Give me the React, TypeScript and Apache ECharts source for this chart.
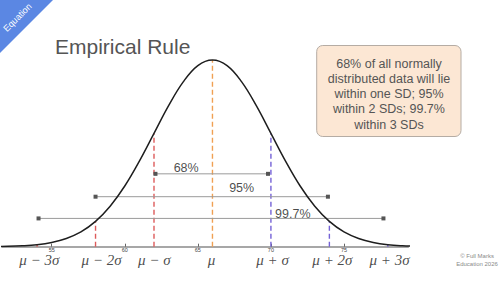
import React, { useEffect, useRef } from "react";
import * as echarts from "echarts";

// Normal curve heights (density), mean 66, sd 4
const curveX = [51, 52, 53, 54, 55, 56, 57, 58, 59, 60, 61, 62, 63, 64, 65, 66, 67, 68, 69, 70, 71, 72, 73, 74, 75, 76, 77, 78, 79, 80, 81];
const curveY = [0.0001, 0.0002, 0.0005, 0.0011, 0.0023, 0.0044, 0.0079, 0.0135, 0.0216, 0.0324, 0.0457, 0.0605, 0.0753, 0.088, 0.0967, 0.0997, 0.0967, 0.088, 0.0753, 0.0605, 0.0457, 0.0324, 0.0216, 0.0135, 0.0079, 0.0044, 0.0023, 0.0011, 0.0005, 0.0002, 0.0001];

const axisTicks = [55, 60, 65, 70, 75];

const mean = 66;
const sd = 4;
const sigmaSteps = [-3, -2, -1, 0, 1, 2, 3];
const sigmaLabels = ["μ − 3σ", "μ − 2σ", "μ − σ", "μ", "μ + σ", "μ + 2σ", "μ + 3σ"];
const guideHeights = [0.0011, 0.0135, 0.0605, 0.0997, 0.0605, 0.0135, 0.0011];

const rangeLabels = ["68%", "95%", "99.7%"];
const rangeStarts = [62.1, 58.0, 54.1];
const rangeEnds = [69.8, 73.9, 77.7];
const rangeLevels = [0.0389, 0.0267, 0.0151];
const rangeLabelX = [64.2, 68.0, 71.5];
const rangeLabelY = [0.0422, 0.0312, 0.0174];

const noteLines = [
  "68% of all normally",
  "distributed data will lie",
  "within one SD; 95%",
  "within 2 SDs; 99.7%",
  "within 3 SDs",
];

const SANS = "Liberation Sans, Arial, Helvetica, sans-serif";
const SERIF = "Liberation Serif, DejaVu Serif, serif";

function guideColor(k: number) {
  if (k < 0) return "#dd5a5a";
  if (k > 0) return "#7462d6";
  return "#f0a053";
}

export default function App() {
  const ref = useRef<HTMLDivElement>(null);
  useEffect(() => {
    if (!ref.current) return;
    const chart = echarts.init(ref.current, undefined, { renderer: "svg" });

    const sigmaNudge = [2.3, 6, 0.3, -1, 1.7, 3, 1.7];

    const guideSeries = sigmaSteps.map((k, i) => ({
      type: "line",
      data: [
        [mean + k * sd, 0],
        [mean + k * sd, guideHeights[i]],
      ],
      showSymbol: false,
      symbol: "none",
      lineStyle: { color: guideColor(k), width: 1.4, type: [5, 3] },
      z: 2,
      silent: true,
    }));

    const rangeSeries = rangeLabels.map((_, i) => ({
      type: "line",
      data: [
        [rangeStarts[i], rangeLevels[i]],
        [rangeEnds[i], rangeLevels[i]],
      ],
      symbol: "rect",
      symbolSize: 4,
      showSymbol: true,
      itemStyle: { color: "#555555" },
      lineStyle: { color: "#9a9a9a", width: 1 },
      z: 3,
      silent: true,
    }));

    const option: any = {
      animation: false,
      grid: { left: 2, right: 91.7, top: 59.4, bottom: 36.3 },
      xAxis: {
        type: "value",
        min: 51.6,
        max: 79.4,
        splitLine: { show: false },
        axisLine: { show: true, lineStyle: { color: "#8a8a8a", width: 1.5 } },
        axisTick: {
          show: true,
          inside: true,
          length: 3,
          customValues: axisTicks,
          lineStyle: { color: "#666", width: 1 },
        },
        axisLabel: {
          show: true,
          customValues: axisTicks,
          fontSize: 5.5,
          margin: 0,
          color: "#444",
          fontFamily: SANS,
        },
      },
      yAxis: { type: "value", min: 0, max: 0.1, show: false },
      series: [
        ...guideSeries,
        {
          type: "line",
          data: curveX.map((x, i) => [x, curveY[i]]),
          smooth: 0.4,
          showSymbol: false,
          symbol: "none",
          lineStyle: { color: "#1e1e1e", width: 1.5 },
          z: 4,
          silent: true,
        },
        ...rangeSeries,
        {
          type: "scatter",
          symbolSize: 0,
          data: rangeLabels.map((t, i) => ({ value: [rangeLabelX[i], rangeLabelY[i]], name: t })),
          label: {
            show: true,
            position: "inside",
            formatter: (p: any) => p.name,
            fontSize: 12.5,
            color: "#1a1a1a",
            fontFamily: SANS,
          },
          z: 5,
          silent: true,
        },
        {
          type: "scatter",
          symbolSize: 0,
          data: sigmaSteps.map((k, i) => ({
            value: [mean + k * sd, 0],
            name: sigmaLabels[i],
            label: { offset: [sigmaNudge[i], 13.6] },
          })),
          label: {
            show: true,
            position: "inside",
            formatter: (p: any) => p.name,
            fontSize: 15,
            fontStyle: "italic",
            color: "#1a1a1a",
            fontFamily: SERIF,
          },
          z: 5,
          silent: true,
        },
      ],
      graphic: [
        {
          type: "polygon",
          shape: { points: [[0, 0], [53, 0], [0, 53]] },
          style: { fill: "#5b87e3" },
          z: 10,
        },
        {
          type: "text",
          x: 17.5,
          y: 17.5,
          rotation: Math.PI / 4,
          style: {
            text: "Equation",
            x: 0,
            y: 0,
            fill: "#ffffff",
            font: `9px ${SANS}`,
            align: "center",
            verticalAlign: "middle",
            textAlign: "center",
            textVerticalAlign: "middle",
          },
          z: 11,
        },
        {
          type: "text",
          x: 55,
          y: 46.5,
          style: {
            text: "Empirical Rule",
            fill: "#555555",
            font: `21px ${SANS}`,
            align: "left",
            verticalAlign: "middle",
            textAlign: "left",
            textVerticalAlign: "middle",
          },
          z: 10,
        },
        {
          type: "rect",
          shape: { x: 316.7, y: 45.5, width: 144.3, height: 91, r: 6 },
          style: { fill: "#fce7d4", stroke: "#b5aca4", lineWidth: 1 },
          z: 10,
        },
        ...noteLines.map((t, i) => ({
          type: "text",
          x: 389,
          y: 63.5 + i * 15.25,
          style: {
            text: t,
            fill: "#555555",
            font: `12.5px ${SANS}`,
            align: "center",
            verticalAlign: "middle",
            textAlign: "center",
            textVerticalAlign: "middle",
          },
          z: 11,
        })),
        {
          type: "text",
          x: 477,
          y: 255.7,
          style: {
            text: "© Full Marks",
            fill: "#8a8a8a",
            font: `6px ${SANS}`,
            align: "center",
            verticalAlign: "middle",
            textAlign: "center",
            textVerticalAlign: "middle",
          },
          z: 10,
        },
        {
          type: "text",
          x: 477,
          y: 264,
          style: {
            text: "Education 2026",
            fill: "#8a8a8a",
            font: `6px ${SANS}`,
            align: "center",
            verticalAlign: "middle",
            textAlign: "center",
            textVerticalAlign: "middle",
          },
          z: 10,
        },
      ],
    };

    chart.setOption(option);
    return () => chart.dispose();
  }, []);

  return (
    <div
      ref={ref}
      style={{ position: "fixed", left: 0, top: 0, width: 500, height: 283, background: "#ffffff" }}
    />
  );
}
